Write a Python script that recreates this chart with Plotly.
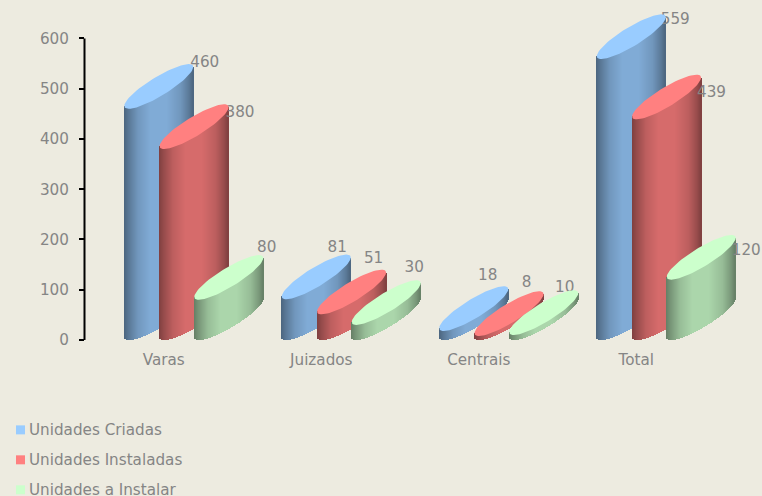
import math
import plotly.graph_objects as go

categories = ["Varas", "Juizados", "Centrais", "Total"]
series_names = ["Unidades Criadas", "Unidades Instaladas", "Unidades a Instalar"]
criadas = [460, 81, 18, 559]
instaladas = [380, 51, 8, 439]
a_instalar = [80, 30, 10, 120]
y_ticks = [0, 100, 200, 300, 400, 500, 600]

# styling / geometry (pixels)
series_values = [criadas, instaladas, a_instalar]
top_colors = [(153, 204, 255), (255, 128, 128), (204, 255, 204)]
BG = "#EDEBE0"
TXT = "#858585"
FONT = "DejaVu Sans"
FS = 15.2
W, H = 762, 496
L, B = 85, 340.5
AXIS_TOP = 38.5
PW, PH = W - L, B          # plot area reaches the window's top/right edges
PITCH = 157.5
K = (B - AXIS_TOP) / 600
CYL_W = 69
A = CYL_W / 2
SKEW = 19.5
MINOR = 11
RISE = math.hypot(SKEW, MINOR)
OFFS = [-39.5, -4.2, 30.5]
# label offsets from cylinder centre / value level (px)
LABEL_DX = [[46, 21, 14, 44], [46, 22, 17.5, 45], [38, 28, 21, 45]]
LABEL_DY = [[45.5, 51.5, 54.5, 38.5], [35.5, 55.5, 52.5, 26], [51.5, 56.5, 46.5, 28.5]]


def shade(f):
    stops = [(0, .50), (.06, .58), (.2, .74), (.38, .84), (.62, .84), (.82, .74), (.94, .60), (1, .50)]
    for (a, va), (b, vb) in zip(stops, stops[1:]):
        if f <= b:
            return va + (vb - va) * (f - a) / (b - a)
    return stops[-1][1]


fig = go.Figure()
n = 69
for s, vals in enumerate(series_values):
    xs, bases, hs, cols = [], [], [], []
    for g, v in enumerate(vals):
        left = OFFS[s] / PITCH + g
        for i in range(n):
            f = (i + .5) / n
            dx = 2 * f - 1
            xs.append(left + f * CYL_W / PITCH)
            thick = MINOR * math.sqrt(max(0, 1 - dx * dx))
            bases.append((RISE + SKEW * dx - thick) / K)
            hs.append(v + thick / K)
            m = shade(f)
            c = top_colors[s]
            cols.append(f"rgb({int(c[0]*m)},{int(c[1]*m)},{int(c[2]*m)})")
    fig.add_trace(go.Bar(x=xs, y=hs, base=bases, width=(CYL_W - 1) / n / PITCH,
                         marker=dict(color=cols, line=dict(width=0)),
                         name=series_names[s], showlegend=False, hoverinfo="skip"))

for s, vals in enumerate(series_values):
    lx = [g + (OFFS[s] + A + LABEL_DX[s][g]) / PITCH for g in range(4)]
    ly = [v + LABEL_DY[s][g] / K for g, v in enumerate(vals)]
    fig.add_trace(go.Scatter(x=lx, y=ly, mode="text", text=[str(v) for v in vals],
                             textposition="middle center",
                             textfont=dict(family=FONT, size=FS, color=TXT),
                             showlegend=False, cliponaxis=False, hoverinfo="skip"))

for s, vals in enumerate(series_values):
    ex, ey = [], []
    for g, v in enumerate(vals):
        cx = g + (OFFS[s] + A) / PITCH
        cy = v + RISE / K
        for j in range(73):
            t = 2 * math.pi * j / 72
            ex.append(cx + A * math.cos(t) / PITCH)
            ey.append(cy + (SKEW * math.cos(t) + MINOR * math.sin(t)) / K)
        ex.append(None)
        ey.append(None)
    fig.add_trace(go.Scatter(x=ex, y=ey, mode="lines", fill="toself",
                             fillcolor="rgb(%d,%d,%d)" % top_colors[s],
                             line=dict(width=0), showlegend=False, hoverinfo="skip"))

annotations, shapes = [], []
for s, name in enumerate(series_names):
    yc = 430.5 + 30 * s
    annotations.append(dict(xref="paper", yref="paper", x=(27.5 - L) / PW, y=(B - yc) / PH,
                            xanchor="left", yanchor="middle", text=name, showarrow=False,
                            borderpad=0, font=dict(family=FONT, size=FS, color=TXT)))
    shapes.append(dict(type="rect", xref="paper", yref="paper",
                       x0=(16 - L) / PW, x1=(25 - L) / PW,
                       y0=(B - yc - 4.5) / PH, y1=(B - yc + 4.5) / PH,
                       fillcolor="rgb(%d,%d,%d)" % top_colors[s], line=dict(width=0)))
# left axis line stops at the 600 tick even though the plot area goes higher
shapes.append(dict(type="line", xref="paper", yref="y", x0=-.5 / PW, x1=-.5 / PW,
                   y0=0, y1=y_ticks[-1], line=dict(color="black", width=2)))

fig.update_layout(
    width=W, height=H, barmode="overlay", bargap=0,
    paper_bgcolor=BG, plot_bgcolor=BG, showlegend=False,
    margin=dict(l=L, r=0, t=0, b=H - B, pad=0),
    annotations=annotations, shapes=shapes,
    xaxis=dict(range=[-.5, -.5 + PW / PITCH], tickvals=list(range(4)), ticktext=categories,
               showgrid=False, zeroline=False, showline=False, ticks="",
               ticklabelstandoff=9, tickfont=dict(family=FONT, size=FS, color=TXT)),
    yaxis=dict(range=[0, B / K], tickvals=y_ticks, showgrid=False, zeroline=False,
               showline=False, ticks="outside",
               ticklen=5, tickwidth=1.5, tickcolor="black", ticklabelstandoff=7,
               tickfont=dict(family=FONT, size=FS, color=TXT)),
)
fig.write_html("out.html", config={"displayModeBar": False},
               post_script="document.body.style.margin='0';document.body.style.overflow='hidden';")
